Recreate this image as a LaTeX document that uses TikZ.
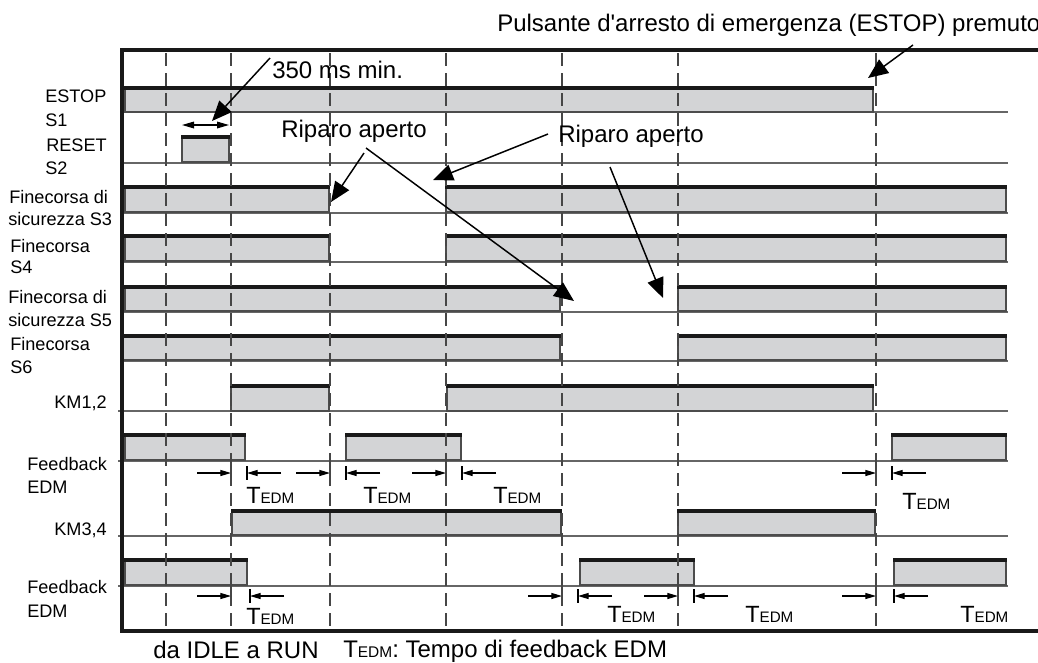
\documentclass[tikz,border=0pt]{standalone}
\usepackage{fontspec}
\setmainfont{Liberation Sans}
\newfontfamily\rawfont{Liberation Sans}
\usetikzlibrary{arrows.meta}
\definecolor{barfill}{RGB}{211,212,214}
\definecolor{dashcol}{RGB}{70,70,70}
\newcommand\sigbar[4]{%
  \draw[barbox] (#1,#3) rectangle (#2,#4);
  \draw[bartop] (#1-1,#3) -- (#2+1,#3);}
\newcommand\tedm{{\fontsize{17.6}{20}\selectfont T}{\fontsize{11.4}{13}\selectfont EDM}}
\newcommand\tmark[4]{% dashed x, tick x, y, name
  \coordinate (#4d) at (#1,#3);
  \coordinate (#4t) at (#2,#3);
  \coordinate (#4l) at (#1-34,#3);
  \coordinate (#4r) at (#2+34,#3);
  \draw[tarr] (#4l) -- (#4d);
  \draw[line width=1.5pt, dashcol] (#1,#3-10) -- (#1,#3+10);
  \draw[tick] (#2,#3-7) -- (#2,#3+7);
  \draw[tarr] (#4r) -- (#4t);}
\begin{document}
\begin{tikzpicture}[x=0.75pt,y=-0.75pt,
  lbl/.style={font=\fontsize{13.6}{16}\selectfont, inner sep=0pt, anchor=base west},
  lblr/.style={font=\fontsize{13.6}{16}\selectfont, inner sep=0pt, anchor=base east},
  big/.style={font=\fontsize{18}{21}\selectfont, inner sep=0pt, anchor=base west},
  tl/.style={inner sep=0pt, anchor=base west},
  frame/.style={line width=3pt, black!90},
  baseln/.style={line width=0.9pt, black!60},
  vdash/.style={line width=1.5pt, dashcol, dash pattern=on 10pt off 5pt},
  barbox/.style={fill=barfill, draw=black!70, line width=1pt},
  bartop/.style={line width=2.4pt, black!90},
  ann/.style={line width=1.1pt, -{Triangle[length=15pt,width=12.5pt]}},
  tarr/.style={line width=0.9pt, -{Triangle[length=8pt,width=4.5pt]}},
  tick/.style={line width=0.9pt},
]
\useasboundingbox (0,0) rectangle (1038,662);
\clip (0,0) rectangle (1038,662);

% baselines
\foreach \y in {112,163,213,262,312,361} \draw[baseln] (122,\y) -- (1008,\y);
\foreach \y in {411,461,536,586} \draw[baseln] (118,\y) -- (1008,\y);

% bars
\sigbar{125}{873}{88}{112}
\sigbar{182}{229}{137}{162}
\sigbar{125}{329}{187}{212}
\sigbar{446}{1006}{187}{212}
\sigbar{125}{329}{236}{261}
\sigbar{446}{1006}{236}{261}
\sigbar{125}{560}{287}{311}
\sigbar{678}{1006}{287}{311}
\sigbar{123}{560}{336}{360}
\sigbar{678}{1006}{336}{360}
\sigbar{231}{329}{386}{411}
\sigbar{447}{873}{386}{411}
\sigbar{125}{245}{435}{460}
\sigbar{346}{461}{435}{460}
\sigbar{892}{1006}{435}{460}
\sigbar{232}{561}{511}{535}
\sigbar{678}{875}{511}{535}
\sigbar{125}{247}{560}{585}
\sigbar{580}{694}{560}{585}
\sigbar{894}{1006}{560}{585}

% dashed time lines
\foreach \x in {166,231,330,446,562,678,876} \draw[vdash] (\x,53) -- (\x,629);

% frame
\draw[frame] (1040,50) -- (122,50) -- (122,631) -- (1040,631);

% left labels
\node[lbl] (l1) at (45,102) {ESTOP};
\node[lbl] (l2) at (45,126) {S1};
\node[lbl] (l3) at (46,151) {RESET};
\node[lbl] (l4) at (45,174) {S2};
\node[lbl] (l5) at (9,203) {Finecorsa di};
\node[lbl] (l6) at (8,225) {sicurezza S3};
\node[lbl] (l7) at (10,252) {Finecorsa};
\node[lbl] (l8) at (10,273) {S4};
\node[lbl] (l9) at (8,303) {Finecorsa di};
\node[lbl] (l10) at (8,326) {sicurezza S5};
\node[lbl] (l11) at (10,350) {Finecorsa};
\node[lbl] (l12) at (10,373) {S6};
\node[lblr] (l13) at (107,408) {KM1,2};
\node[lbl] (l14) at (27,470) {Feedback};
\node[lbl] (l15) at (27,493) {EDM};
\node[lblr] (l16) at (107,535) {KM3,4};
\node[lbl] (l17) at (27,593) {Feedback};
\node[lbl] (l18) at (27,617) {EDM};

% T_EDM markers
\tmark{231}{247}{473}{ma}
\tmark{330}{346}{473}{mb}
\tmark{446}{462}{473}{mc}
\tmark{876}{892}{473}{md}
\tmark{231}{250}{596}{me}
\tmark{562}{578}{596}{mf}
\tmark{678}{694}{596}{mg}
\tmark{876}{894}{596}{mh}
\node[tl] (ta) at (246,503) {\tedm};
\node[tl] (tb) at (363,503) {\tedm};
\node[tl] (tc) at (493,503) {\tedm};
\node[tl] (td) at (902,509) {\tedm};
\node[tl] (te) at (246,624) {\tedm};
\node[tl] (tf) at (607,622) {\tedm};
\node[tl] (tg) at (745,622) {\tedm};
\node[tl] (th) at (960,622) {\tedm};

% 350 ms
\coordinate (d1) at (182,125);
\coordinate (d2) at (229,125);
\draw[line width=0.9pt, {Triangle[length=9pt,width=5pt]}-{Triangle[length=9pt,width=5pt]}] (d1) -- (d2);
\node[big] (t350) at (272,78) {350 ms min.};
\coordinate (a350s) at (270,58);
\coordinate (a350e) at (212,121);
\draw[ann] (a350s) -- (a350e);

% ESTOP pressed
\node[big, font=\rawfont\fontsize{18}{21}\selectfont] (test) at (497,31) {Pulsante d'arresto di emergenza (ESTOP) premuto};
\coordinate (aes) at (913,45);
\coordinate (aee) at (868,78);
\draw[ann] (aes) -- (aee);

% Riparo aperto 1
\node[big] (rip1) at (281,137) {Riparo aperto};
\coordinate (r1s) at (364,153);
\coordinate (r1e) at (331,202);
\coordinate (r2s) at (366,148);
\coordinate (r2e) at (574,301);
\draw[ann] (r1s) -- (r1e);
\draw[ann] (r2s) -- (r2e);

% Riparo aperto 2
\node[big] (rip2) at (558,142) {Riparo aperto};
\coordinate (r3s) at (548,134);
\coordinate (r3e) at (433,180);
\coordinate (r4s) at (610,167);
\coordinate (r4e) at (663,298);
\draw[ann] (r3s) -- (r3e);
\draw[ann] (r4s) -- (r4e);

% bottom texts
\node[big] (idle) at (153,658) {da IDLE a RUN};
\node[tl] (leg) at (343,657) {{\fontsize{18}{21}\selectfont T}{\fontsize{11.6}{13}\selectfont EDM}{\fontsize{18}{21}\selectfont: Tempo di feedback EDM}};
\end{tikzpicture}
\end{document}
